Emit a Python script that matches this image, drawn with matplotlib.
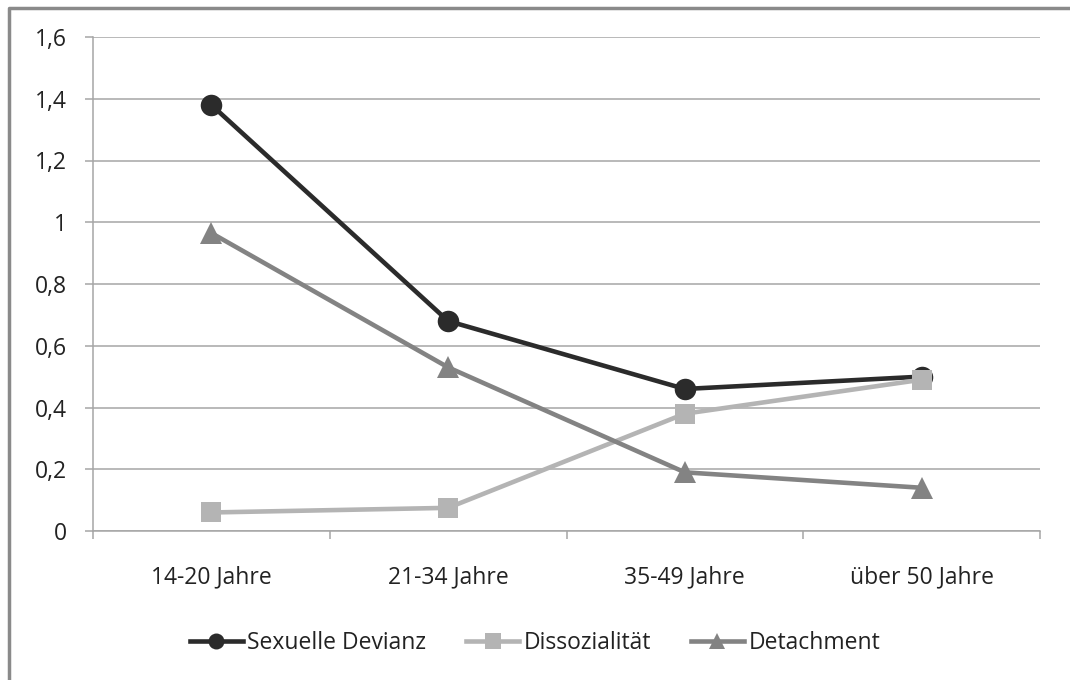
import matplotlib.pyplot as plt
from matplotlib.lines import Line2D
from matplotlib.ticker import FixedLocator, NullFormatter

plt.rcParams['font.family'] = ['Open Sans', 'DejaVu Sans']

categories = ['14-20 Jahre', '21-34 Jahre', '35-49 Jahre', 'über 50 Jahre']
sexuelle_devianz = [1.38, 0.68, 0.46, 0.50]
dissozialitaet = [0.06, 0.075, 0.38, 0.49]
detachment = [0.965, 0.53, 0.19, 0.14]
y_ticks = [0, 0.2, 0.4, 0.6, 0.8, 1.0, 1.2, 1.4, 1.6]
y_labels = ['0', '0,2', '0,4', '0,6', '0,8', '1', '1,2', '1,4', '1,6']

series = [
    ('Sexuelle Devianz', sexuelle_devianz, '#2b2b2b', 'o', 15.5),
    ('Dissozialität', dissozialitaet, '#b4b4b4', 's', 15),
    ('Detachment', detachment, '#838383', '^', 16),
]

fig = plt.figure(figsize=(10.7, 6.8), dpi=100)
ax = fig.add_axes([93 / 1070, 1 - 531 / 680, (1040 - 93) / 1070, (531 - 37) / 680])

x = list(range(len(categories)))
for name, vals, color, marker, ms in series:
    ax.plot(x, vals, color=color, lw=3.3, marker=marker, ms=ms,
            markeredgewidth=0, label=name, zorder=3)

ax.set_xlim(-0.5, len(categories) - 0.5)
ax.set_ylim(0, 1.6)
ax.set_yticks(y_ticks)
ax.set_yticklabels(y_labels)
ax.yaxis.grid(True, color='#a6a6a6', lw=1.1)
ax.set_axisbelow(True)

ax.set_xticks(x)
ax.set_xticklabels(categories)
ax.tick_params(axis='x', which='major', length=0, pad=24.5, labelsize=16.5, colors='#222222')
ax.xaxis.set_minor_locator(FixedLocator([i - 0.5 for i in range(len(categories) + 1)]))
ax.xaxis.set_minor_formatter(NullFormatter())
ax.tick_params(axis='x', which='minor', length=6, width=1.1, color='#a6a6a6')
ax.tick_params(axis='y', length=6, width=1.1, color='#a6a6a6', pad=13,
               labelsize=16.5, labelcolor='#222222')

for side in ['top', 'right']:
    ax.spines[side].set_visible(False)
for side in ['left', 'bottom']:
    ax.spines[side].set_color('#a6a6a6')
    ax.spines[side].set_linewidth(1.1)

handles = [Line2D([], [], color=c, lw=3.3, marker=m, ms=ms - 4, markeredgewidth=0)
           for _, _, c, m, ms in series]
fig.legend(handles, [s[0] for s in series], loc='center', bbox_to_anchor=(0.5, 1 - 643 / 680),
           ncol=3, frameon=False, fontsize=16.5, handlelength=2.3, handletextpad=0.2,
           columnspacing=1.75, labelcolor='#222222')

# grey frame along the left and top edge of the image
frame = Line2D([9 / 1070, 9 / 1070, 1.0], [0.0, 1 - 8 / 680, 1 - 8 / 680],
               transform=fig.transFigure, color='#8a8a8a', lw=2.5)
fig.add_artist(frame)

fig.savefig('out.png', dpi=100)
